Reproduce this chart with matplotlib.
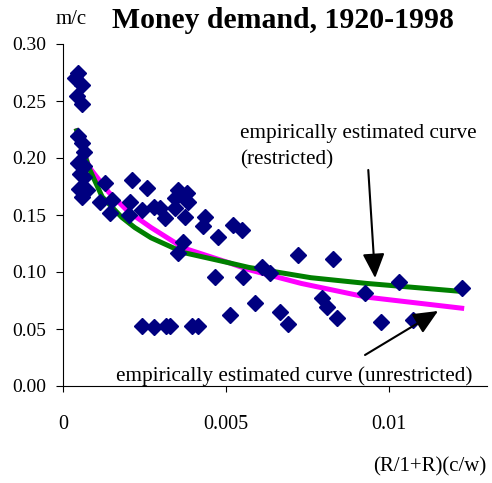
import matplotlib
matplotlib.use("Agg")
import matplotlib.pyplot as plt

plt.rcParams['font.family'] = ['Liberation Serif', 'DejaVu Serif']

# observations: (R/1+R)(c/w) vs m/c
xs = [0.00046, 0.00037, 0.00058, 0.00043, 0.00058,
      0.00046, 0.00058, 0.00064, 0.00046, 0.00064, 0.00052, 0.00064, 0.00049, 0.00074, 0.00058,
      0.00129, 0.00113, 0.00150, 0.00144, 0.00212, 0.00258, 0.00206, 0.00202, 0.00242, 0.00279,
      0.00298, 0.00313, 0.00353, 0.00380, 0.00344, 0.00383, 0.00344, 0.00374, 0.00436, 0.00429,
      0.00475, 0.00521, 0.00549, 0.00368, 0.00353,
      0.00242, 0.00279, 0.00316, 0.00328, 0.00396, 0.00414,
      0.00466, 0.00512, 0.00552, 0.00589, 0.00610, 0.00635, 0.00666, 0.00690, 0.00721,
      0.00828, 0.00794, 0.00810, 0.00840, 0.00926, 0.00975, 0.01031, 0.01074, 0.01224]
ys = [0.275, 0.270, 0.264, 0.254, 0.247,
      0.219, 0.213, 0.205, 0.196, 0.193, 0.186, 0.183, 0.173, 0.172, 0.166,
      0.178, 0.161, 0.163, 0.152, 0.181, 0.174, 0.161, 0.150, 0.154, 0.157,
      0.156, 0.147, 0.172, 0.169, 0.165, 0.161, 0.156, 0.148, 0.148, 0.140,
      0.131, 0.141, 0.137, 0.126, 0.117,
      0.053, 0.052, 0.053, 0.053, 0.053, 0.053,
      0.096, 0.062, 0.096, 0.073, 0.104, 0.099, 0.065, 0.054, 0.115,
      0.111, 0.077, 0.069, 0.060, 0.082, 0.056, 0.091, 0.058, 0.086]

# fitted curves
restr_x = [0.0004, 0.0008, 0.0012, 0.0018, 0.0022, 0.0027, 0.0037, 0.0051, 0.0057, 0.0076, 0.0093, 0.0122]
restr_y = [0.226, 0.191, 0.166, 0.148, 0.139, 0.130, 0.117, 0.108, 0.104, 0.095, 0.090, 0.083]
unres_x = [0.0004, 0.0008, 0.0014, 0.0020, 0.0027, 0.0037, 0.0051, 0.0057, 0.0073, 0.0093, 0.0123]
unres_y = [0.226, 0.192, 0.170, 0.153, 0.139, 0.121, 0.108, 0.102, 0.090, 0.078, 0.068]

xticks = [0, 0.005, 0.01]
xtick_labels = ['0', '0.005', '0.01']
yticks = [0.00, 0.05, 0.10, 0.15, 0.20, 0.25, 0.30]

fig = plt.figure(figsize=(4.92, 4.83), dpi=100)
ax = fig.add_axes([63/492, 97/483, 424/492, 342/483])

ax.plot(unres_x, unres_y, color='#FF00FF', lw=3.6, solid_capstyle='butt', zorder=2)
ax.plot(restr_x, restr_y, color='#008000', lw=3.6, solid_capstyle='butt', zorder=2)
ax.plot(xs, ys, 'D', color='#000080', ms=8, mec='#000080', zorder=3)

ax.set_xlim(0, 0.013)
ax.set_ylim(0, 0.30)
ax.set_xticks(xticks)
ax.set_xticklabels(xtick_labels)
ax.set_yticks(yticks)
ax.set_yticklabels(['%.2f' % v for v in yticks])
for s in ['top', 'right']:
    ax.spines[s].set_visible(False)
ax.tick_params(axis='x', direction='out', length=4, pad=17, labelsize=14.5)
ax.tick_params(axis='y', direction='out', length=5, pad=7, labelsize=14)

ax.text(0.00543, 0.2175, 'empirically estimated curve', fontsize=15.3, ha='left', va='baseline')
ax.text(0.00543, 0.1939, '(restricted)', fontsize=15.3, ha='left', va='baseline')
ax.text(0.00163, 0.0044, 'empirically estimated curve (unrestricted)', fontsize=15.3,
        ha='left', va='baseline', zorder=5)

arrow = dict(arrowstyle='-|>,head_length=1.0,head_width=0.45', color='black',
             lw=1.5, mutation_scale=15, shrinkA=0, shrinkB=0)
ax.annotate('', xy=(0.00957, 0.0947), xytext=(0.00936, 0.1895), arrowprops=arrow)
ax.annotate('', xy=(0.0115, 0.0658), xytext=(0.00926, 0.0272), arrowprops=arrow)

fig.text(283/492, 1 - 20/483, 'Money demand, 1920-1998', fontsize=21.4, fontweight='bold',
         ha='center', va='center')
fig.text(71/492, 1 - 19/483, 'm/c', fontsize=15, ha='center', va='center')
fig.text(486/492, 1 - 467/483, '(R/1+R)(c/w)', fontsize=15, ha='right', va='center')

fig.savefig('out.png', dpi=100)
